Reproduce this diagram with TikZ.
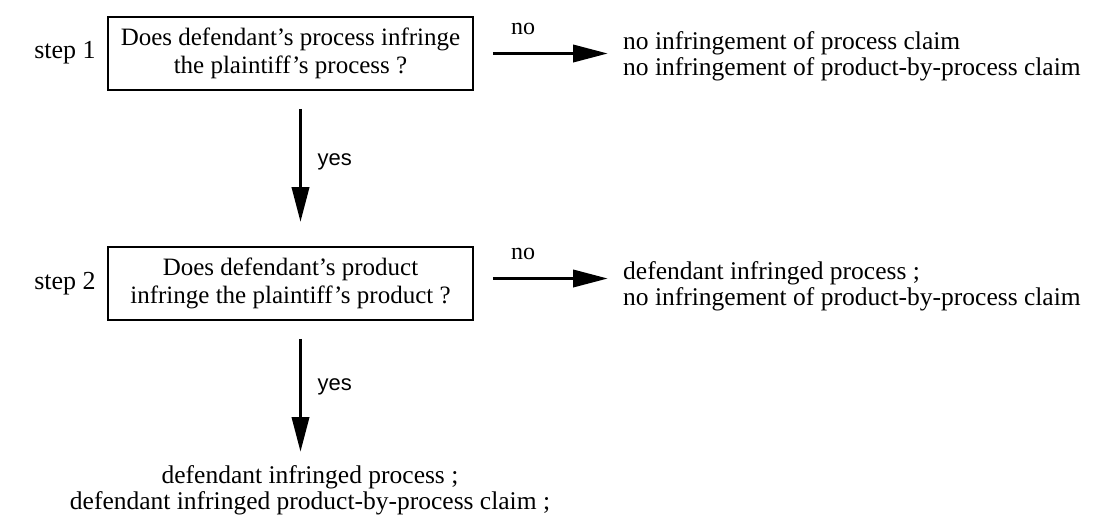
\documentclass[tikz,border=0pt]{standalone}
\usepackage{fontspec}
\setmainfont{Liberation Serif}
\setsansfont{Liberation Sans}
\usetikzlibrary{arrows.meta}
\usetikzlibrary{positioning}

\begin{document}
\begin{tikzpicture}
        [x=1pt, y=-1pt,
        question/.style = {draw=black, line width=1.8pt, text=black, align=center, minimum width=365pt, minimum height=73pt, inner sep=2pt, font=\fontsize{25}{28}\selectfont},
        steplabel/.style = {font=\fontsize{26}{28}\selectfont},
        outcome/.style = {align=left, inner sep=0pt, font=\fontsize{25.5}{26}\selectfont},
        answer/.style = {font=\fontsize{24}{26}\selectfont},
        yesno/.style = {font=\sffamily\fontsize{22}{24}\selectfont},
        lines/.style = {line width=3.8pt, -{Triangle[length=35pt, width=17pt]}}]
        \useasboundingbox (0,0) rectangle (1094,515); % page size

        \node[steplabel] (S1) at (65,53) {step 1};
        \node[question] (Q1) at (290.5,53.5) {Does defendant's process infringe\\the plaintiff's process ?};
        \node[outcome, anchor=west] (O1) at (623,56) {no infringement of process claim\\no infringement of product-by-process claim};

        \node[steplabel] (S2) at (65,284) {step 2};
        \node[question] (Q2) at (290.5,283.5) {Does defendant's product\\infringe the plaintiff's product ?};
        \node[outcome, anchor=west] (O2) at (623,286) {defendant infringed process ;\\no infringement of product-by-process claim};

        \node[outcome, align=center, anchor=north] (O3) at (310,465) {defendant infringed process ;\\defendant infringed product-by-process claim ;};

        \draw[lines, shorten <=19pt, shorten >=15pt] (Q1.east) -- (Q1.east -| O1.west) node[answer, pos=0.33, above=14pt] (N1) {no};
        \draw[lines, shorten <=19pt, shorten >=15pt] ([yshift=5pt]Q2.east) -- ([yshift=5pt]Q2.east -| O2.west) node[answer, pos=0.33, above=14pt] (N2) {no};

        \draw[lines, shorten <=18pt, shorten >=24pt] ([xshift=10pt]Q1.south) -- ([xshift=10pt]Q2.north) node[yesno, pos=0.46, right=12pt] (Y1) {yes};
        \draw[lines, shorten <=18pt, shorten >=13pt] ([xshift=10pt]Q2.south) -- ([xshift=10pt]Q2.south |- O3.north) node[yesno, pos=0.46, right=12pt] (Y2) {yes};

    \end{tikzpicture}
\end{document}
